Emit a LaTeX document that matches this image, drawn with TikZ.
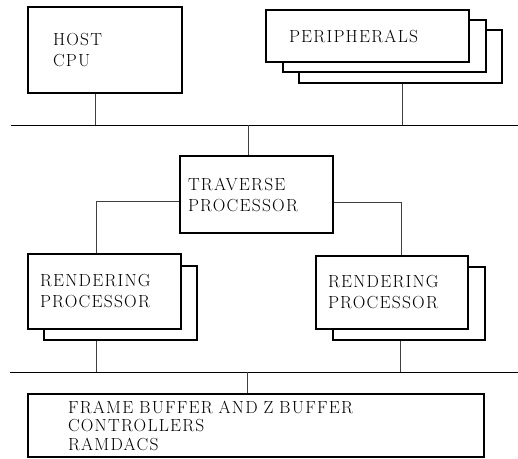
\documentclass[tikz,border=0pt]{standalone}
\usepackage{fontspec}
\setmainfont{Latin Modern Roman}[LetterSpace=7]
\usetikzlibrary{calc,positioning}
\begin{document}
\begin{tikzpicture}[x=1pt, y=-1pt, font=\fontsize{17.5}{21}\selectfont,
      box/.style={draw, line width=1.1pt, fill=white, align=left,
                  inner ysep=0pt},
      wire/.style={line width=0.5pt, black!75},
      bus/.style={line width=0.9pt}
    ]
    \useasboundingbox (0,0) rectangle (518,458);

    % top row
    \node[box, minimum width=154pt, minimum height=86pt, inner xsep=25pt,
          text width=104pt] (host) at (105,50) {HOST\\CPU};

    \node[box, minimum width=203pt, minimum height=53pt] (periphC) at (400.5,56.5) {};
    \node[box, minimum width=203pt, minimum height=52pt] (periphB) at (384.5,46) {};
    \node[box, minimum width=203pt, minimum height=52pt, inner xsep=23pt,
          text width=157pt] (periph) at (367.5,36) {PERIPHERALS};

    % middle
    \node[box, minimum height=77pt, inner xsep=8pt, text width=137pt]
          (trav) at (256.5,194.5) {TRAVERSE\\PROCESSOR};

    \node[box, minimum width=153pt, minimum height=74pt] (rendLB) at (120.5,303) {};
    \node[box, minimum height=75pt, inner xsep=12pt, text width=129pt]
          (rendL) at (104.5,291.5) {RENDERING\\PROCESSOR};

    \node[box, minimum width=152pt, minimum height=73pt] (rendRB) at (409,303.5) {};
    \node[box, minimum height=73pt, inner xsep=12pt, text width=128pt]
          (rendR) at (392,292.5) {RENDERING\\PROCESSOR};

    % bottom
    \node[box, minimum height=63pt, inner xsep=40pt, text width=376pt,
          font=\fontsize{17.5}{18.5}\selectfont]
          (frame) at (256,425.5) {FRAME BUFFER AND Z BUFFER\\CONTROLLERS\\RAMDACS};

    % buses
    \coordinate (busAl) at (11,125);  \coordinate (busAr) at (518,125);
    \coordinate (busBl) at (10,372);  \coordinate (busBr) at (518,372);
    \draw[bus] (busAl) -- (busAr);
    \draw[bus] (busBl) -- (busBr);

    % taps
    \coordinate (hostTap)  at ($(host.south west)!0.44!(host.south east)$);
    \coordinate (perTap)   at ($(periphC.south west)!0.51!(periphC.south east)$);
    \coordinate (travTap)  at ($(trav.north west)!0.444!(trav.north east)$);
    \coordinate (rendLTap) at ($(rendL.north west)!0.444!(rendL.north east)$);
    \coordinate (rendRTap) at ($(rendR.north west)!0.56!(rendR.north east)$);
    \coordinate (rendLOut) at ($(rendLB.south west)!0.34!(rendLB.south east)$);
    \coordinate (rendROut) at ($(rendRB.south west)!0.44!(rendRB.south east)$);
    \coordinate (frameTap) at ($(frame.north west)!0.48!(frame.north east)$);

    \draw[wire] (hostTap) -- (hostTap |- busAl);
    \draw[wire] (perTap) -- (perTap |- busAl);
    \draw[wire] (travTap |- busAl) -- (travTap);
    \draw[wire] ([yshift=-6.5pt]trav.west) -| (rendLTap);
    \draw[wire] ([yshift=-7.5pt]trav.east) -| (rendRTap);
    \draw[wire] (rendLOut) -- (rendLOut |- busBl);
    \draw[wire] (rendROut) -- (rendROut |- busBl);
    \draw[wire] (frameTap |- busBl) -- (frameTap);
  \end{tikzpicture}
\end{document}
